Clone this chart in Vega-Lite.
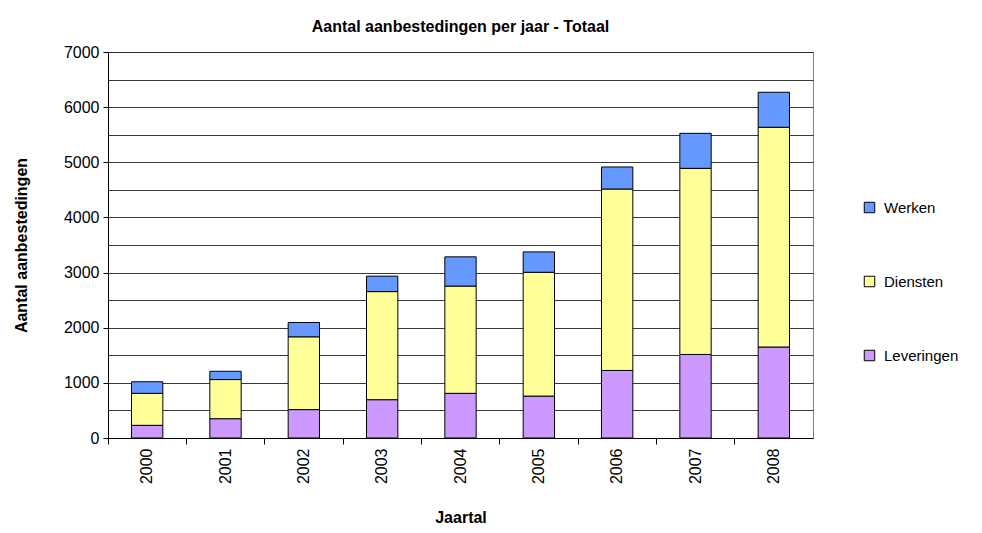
{
  "$schema": "https://vega.github.io/schema/vega-lite/v6.json",
  "width": 705,
  "height": 386,
  "autosize": {"type": "none"},
  "padding": {"left": 108, "top": 52, "right": 169, "bottom": 95},
  "background": "white",
  "config": {
    "font": "Liberation Sans",
    "view": {"stroke": "#808080", "strokeWidth": 1}
  },
  "title": {
    "text": "Aantal aanbestedingen per jaar - Totaal",
    "fontSize": 16,
    "fontWeight": "bold",
    "font": "Liberation Sans",
    "color": "black",
    "anchor": "middle",
    "offset": 9
  },
  "data": {
    "values": [
      {"jaar": "2000", "soort": "Leveringen", "aantal": 230, "volg": 1},
      {"jaar": "2000", "soort": "Diensten", "aantal": 580, "volg": 2},
      {"jaar": "2000", "soort": "Werken", "aantal": 210, "volg": 3},
      {"jaar": "2001", "soort": "Leveringen", "aantal": 350, "volg": 1},
      {"jaar": "2001", "soort": "Diensten", "aantal": 710, "volg": 2},
      {"jaar": "2001", "soort": "Werken", "aantal": 150, "volg": 3},
      {"jaar": "2002", "soort": "Leveringen", "aantal": 515, "volg": 1},
      {"jaar": "2002", "soort": "Diensten", "aantal": 1320, "volg": 2},
      {"jaar": "2002", "soort": "Werken", "aantal": 260, "volg": 3},
      {"jaar": "2003", "soort": "Leveringen", "aantal": 695, "volg": 1},
      {"jaar": "2003", "soort": "Diensten", "aantal": 1960, "volg": 2},
      {"jaar": "2003", "soort": "Werken", "aantal": 280, "volg": 3},
      {"jaar": "2004", "soort": "Leveringen", "aantal": 810, "volg": 1},
      {"jaar": "2004", "soort": "Diensten", "aantal": 1945, "volg": 2},
      {"jaar": "2004", "soort": "Werken", "aantal": 530, "volg": 3},
      {"jaar": "2005", "soort": "Leveringen", "aantal": 760, "volg": 1},
      {"jaar": "2005", "soort": "Diensten", "aantal": 2245, "volg": 2},
      {"jaar": "2005", "soort": "Werken", "aantal": 370, "volg": 3},
      {"jaar": "2006", "soort": "Leveringen", "aantal": 1225, "volg": 1},
      {"jaar": "2006", "soort": "Diensten", "aantal": 3290, "volg": 2},
      {"jaar": "2006", "soort": "Werken", "aantal": 400, "volg": 3},
      {"jaar": "2007", "soort": "Leveringen", "aantal": 1515, "volg": 1},
      {"jaar": "2007", "soort": "Diensten", "aantal": 3375, "volg": 2},
      {"jaar": "2007", "soort": "Werken", "aantal": 635, "volg": 3},
      {"jaar": "2008", "soort": "Leveringen", "aantal": 1650, "volg": 1},
      {"jaar": "2008", "soort": "Diensten", "aantal": 3985, "volg": 2},
      {"jaar": "2008", "soort": "Werken", "aantal": 635, "volg": 3}
    ]
  },
  "mark": {"type": "bar", "stroke": "black", "strokeWidth": 1},
  "encoding": {
    "x": {
      "field": "jaar",
      "type": "ordinal",
      "scale": {"paddingInner": 0.6, "paddingOuter": 0.3},
      "axis": {
        "title": "Jaartal",
        "titleFontSize": 16,
        "titleFontWeight": "bold",
        "titleColor": "black",
        "titlePadding": 26,
        "labelAngle": -90,
        "labelAlign": "right",
        "labelBaseline": "middle",
        "labelFontSize": 16,
        "labelColor": "black",
        "labelPadding": 4,
        "bandPosition": -0.75,
        "tickColor": "black",
        "tickSize": 6,
        "domainColor": "black",
        "grid": false
      }
    },
    "y": {
      "field": "aantal",
      "type": "quantitative",
      "stack": "zero",
      "scale": {"domain": [0, 7000], "nice": false},
      "axis": {
        "title": "Aantal aanbestedingen",
        "titleFontSize": 16,
        "titleFontWeight": "bold",
        "titleColor": "black",
        "titlePadding": 34,
        "values": [0, 500, 1000, 1500, 2000, 2500, 3000, 3500, 4000, 4500, 5000, 5500, 6000, 6500, 7000],
        "labelExpr": "datum.value % 1000 === 0 ? datum.value : ''",
        "labelFontSize": 16,
        "labelColor": "black",
        "labelPadding": 4,
        "tickColor": "black",
        "tickSize": 5,
        "tickOpacity": {"condition": {"test": "datum.value % 1000 === 0", "value": 1}, "value": 0},
        "domainColor": "black",
        "grid": true,
        "gridColor": "#222222",
        "gridOpacity": 0.9
      }
    },
    "color": {
      "field": "soort",
      "type": "nominal",
      "scale": {
        "domain": ["Werken", "Diensten", "Leveringen"],
        "range": ["#6699FF", "#FFFF99", "#CC99FF"]
      },
      "legend": {
        "title": null,
        "orient": "none",
        "legendX": 754,
        "legendY": 148,
        "symbolType": "square",
        "symbolSize": 110,
        "symbolStrokeColor": "black",
        "symbolStrokeWidth": 1,
        "symbolOpacity": 1,
        "labelFontSize": 15,
        "labelColor": "black",
        "labelOffset": 7,
        "rowPadding": 58
      }
    },
    "order": {"field": "volg", "type": "quantitative"}
  }
}
